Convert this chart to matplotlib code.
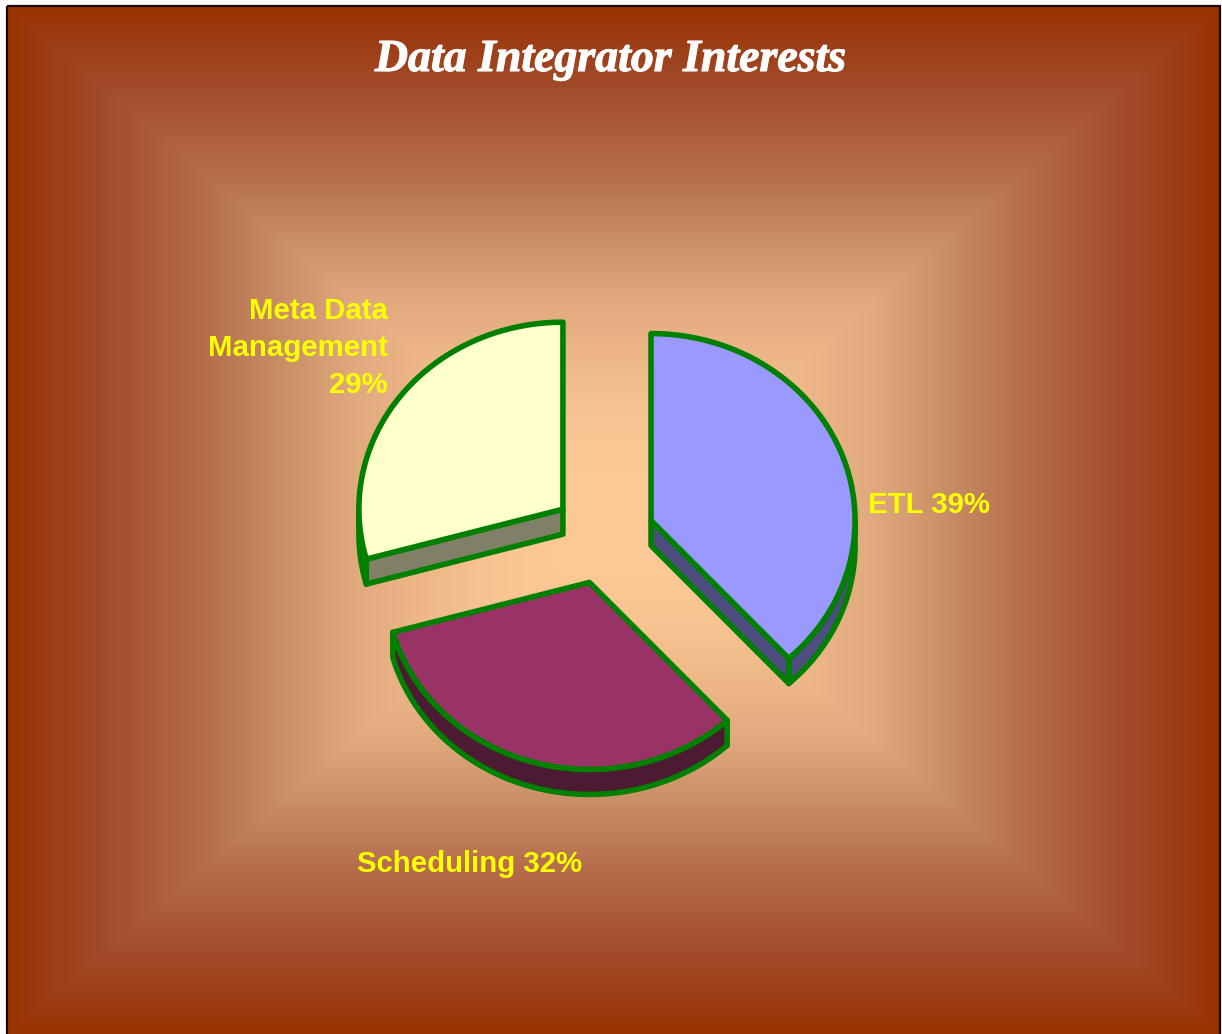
import numpy as np
import matplotlib
matplotlib.use("Agg")
import matplotlib.pyplot as plt
import matplotlib.patheffects as pe
from matplotlib.colors import to_rgb
from matplotlib.patches import Polygon, Rectangle

labels = ["ETL 39%", "Scheduling 32%", "Meta Data\nManagement\n29%"]
values = [38.2, 32.5, 29.3]
top_colors = ["#9999FF", "#993366", "#FFFFCC"]
side_colors = ["#4D4D80", "#4D1A33", "#808066"]
title = "Data Integrator Interests"

W, H = 1222, 1034
cx, cy = 603.5, 537.5
rx, ry = 204, 187
depth = 25
explode = 0.25
green = "#008000"
lw = 4

fig = plt.figure(figsize=(W/100, H/100), dpi=100, facecolor="white")
ax = fig.add_axes([0, 0, 1, 1])
ax.set_xlim(0, W)
ax.set_ylim(H, 0)
ax.axis("off")

# pozadina - pravokutni gradijent od sredine prema rubu
x0, x1, y0, y1 = 7, 1220, 6, 1034
xx, yy = np.meshgrid(np.arange(x0, x1), np.arange(y0, y1))
u = np.abs(xx - (x0+x1)/2) / ((x1-x0)/2)
v = np.abs(yy - (y0+y1)/2) / ((y1-y0)/2)
t = 1 - np.maximum(u, v)
stops = [0, .05, .15, .32, .45, .58, .8, 1]
stop_colors = ["#993300", "#9B3A10", "#A24A28", "#B56C4B", "#C88E65", "#E2AB7E", "#F9C493", "#FFCC99"]
rgb = np.array([to_rgb(c) for c in stop_colors])
img = np.dstack([np.interp(t, stops, rgb[:, i]) for i in range(3)])
ax.imshow(img, extent=(x0, x1, y1, y0), aspect="auto", zorder=0, interpolation="nearest")
ax.set_xlim(0, W)
ax.set_ylim(H, 0)
ax.add_patch(Rectangle((x0, y0), x1-x0, H+20, fill=False, ec="#1a0800", lw=1.6, zorder=1))


def pt(c, a, dy=0):
    # a je kut u stupnjevima od vrha, u smjeru kazaljke
    r = np.radians(a)
    return np.column_stack((c[0] + rx*np.sin(r), c[1] - ry*np.cos(r) + dy))


def poly(xy, fc):
    ax.add_patch(Polygon(xy, closed=True, fc=fc, ec=green, lw=lw, joinstyle="round", zorder=2))


start = 0.
for val, top, side in zip(values, top_colors, side_colors):
    end = start + val/100*360
    m = np.radians((start+end)/2)
    c = (cx + explode*rx*np.sin(m), cy - explode*ry*np.cos(m))

    # vanjska strana - samo dio okrenut prema gledatelju
    a0, a1 = max(start, 90), min(end, 270)
    if a1 > a0:
        arc = pt(c, np.linspace(a0, a1, 120))
        low = pt(c, np.linspace(a1, a0, 120), depth)
        poly(np.vstack((arc, low)), side)
    # ravne strane
    for a, sgn in ((start, -1), (end, 1)):
        r = np.radians(a)
        if sgn*np.sin(r) > 1e-6:
            p = pt(c, np.array([a]))[0]
            poly([c, p, (p[0], p[1]+depth), (c[0], c[1]+depth)], side)
    poly(np.vstack(([c], pt(c, np.linspace(start, end, 200)))), top)
    start = end

ax.text(611, 60, title, color="white", family="Liberation Serif", weight="bold", style="italic",
        fontsize=33, ha="center", va="center", zorder=3,
        path_effects=[pe.withStroke(linewidth=0.8, foreground="white")])

lab_font = dict(color="#FFFF00", family="Liberation Sans", weight="bold", fontsize=21.2, zorder=3)
ax.text(868, 505, labels[0], ha="left", va="center", **lab_font)
ax.text(357, 864, labels[1], ha="left", va="center", **lab_font)
ax.text(388, 348, labels[2], ha="right", va="center", linespacing=1.43, multialignment="right", **lab_font)

fig.savefig("out.png", dpi=100)
